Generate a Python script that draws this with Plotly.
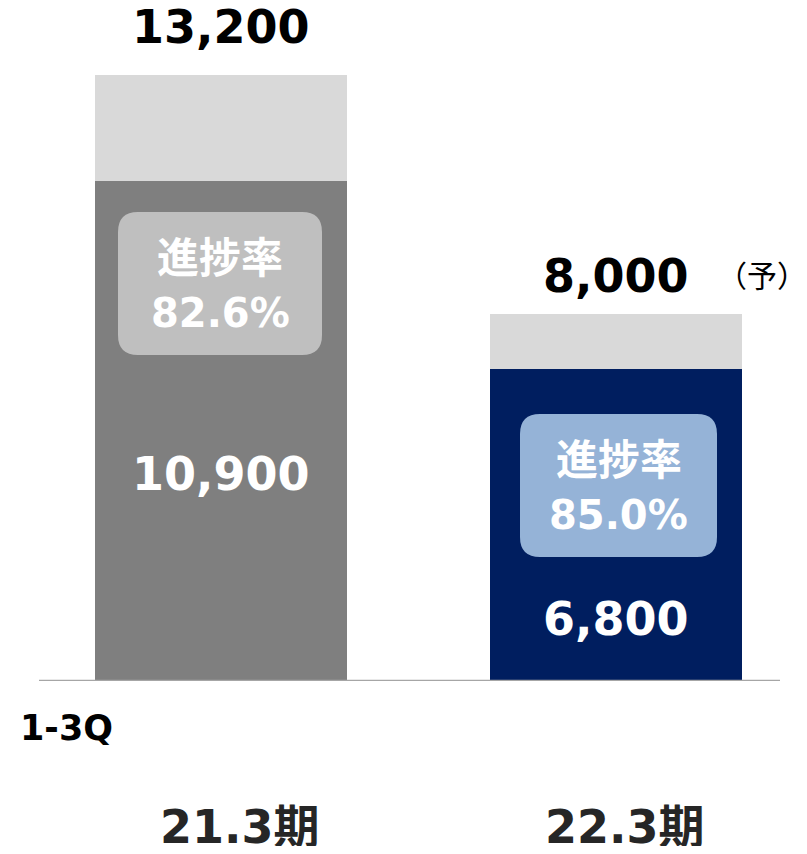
import plotly.graph_objects as go

# data
periods = ["21.3期", "22.3期"]
actual_1_3q = [10900, 6800]
full_year = [13200, 8000]
progress_rate = ["82.6%", "85.0%"]
actual_colors = ["#7f7f7f", "#001e5f"]
badge_colors = ["#bfbfbf", "#95b3d7"]
forecast_note = "（予）"
period_note = "1-3Q"

FONT = "DejaVu Sans, Noto Sans CJK JP, sans-serif"
CJK = "Noto Sans CJK JP, sans-serif"
W, H = 791, 838          # page body keeps an 8px margin
BASE_PX = 673            # pixel row of value 0
PY = 0.0459              # pixels per unit on y
PX = 395                 # pixels per category step on x
X_LO = -213 / PX


def ydat(px_row):
    return (BASE_PX - px_row) / PY


x = list(range(len(periods)))
remainder = [f - a for f, a in zip(full_year, actual_1_3q)]

fig = go.Figure()
fig.add_trace(go.Bar(
    x=x, y=actual_1_3q, width=252 / PX,
    marker={"color": actual_colors, "line": {"width": 0}},
    hoverinfo="skip",
))
fig.add_trace(go.Bar(
    x=x, y=remainder, width=252 / PX,
    marker={"color": "#d9d9d9", "line": {"width": 0}},
    hoverinfo="skip",
))


def rounded_box(x0, x1, y0, y1, rx, ry):
    return (f"M {x0+rx},{y1} L {x1-rx},{y1} Q {x1},{y1} {x1},{y1-ry} "
            f"L {x1},{y0+ry} Q {x1},{y0} {x1-rx},{y0} L {x0+rx},{y0} "
            f"Q {x0},{y0} {x0},{y0+ry} L {x0},{y1-ry} Q {x0},{y1} {x0+rx},{y1} Z")


rx, ry = 20 / PX, 20 / PY
box_px = [(110, 314, 204, 347), (512, 709, 406, 549)]   # x0, x1, top, bottom (px)
value_row = [464, 609]
top_shift = [48, 38]
period_dx = [19, 9]

for i in x:
    bx0, bx1, btop, bbot = box_px[i]
    xa, xb = X_LO + bx0 / PX, X_LO + bx1 / PX
    ya, yb = ydat(bbot), ydat(btop)
    fig.add_shape(type="path", path=rounded_box(xa, xb, ya, yb, rx, ry),
                  fillcolor=badge_colors[i], line={"width": 0}, layer="above")
    cx, cy = (xa + xb) / 2, (ya + yb) / 2
    fig.add_annotation(x=cx, y=cy, yshift=25, text="<b>進捗率</b>", showarrow=False,
                       font={"family": FONT, "size": 42, "color": "white"})
    fig.add_annotation(x=cx, y=cy, yshift=-29, text=f"<b>{progress_rate[i]}</b>", showarrow=False,
                       font={"family": FONT, "size": 40, "color": "white"})
    fig.add_annotation(x=i, y=ydat(value_row[i]), yshift=-2, text=f"<b>{actual_1_3q[i]:,}</b>",
                       showarrow=False, font={"family": FONT, "size": 46, "color": "white"})
    fig.add_annotation(x=i, y=full_year[i], yshift=top_shift[i], text=f"<b>{full_year[i]:,}</b>",
                       showarrow=False, font={"family": FONT, "size": 46, "color": "black"})
    fig.add_annotation(x=i, xshift=period_dx[i], y=0, yshift=-146, text=f"<b>{periods[i]}</b>",
                       showarrow=False, font={"family": FONT, "size": 46, "color": "#262626"})

fig.add_annotation(x=X_LO + 754 / PX, y=full_year[1], yshift=40, text=forecast_note, showarrow=False,
                   font={"family": CJK, "size": 30, "color": "black"})
fig.add_annotation(x=10 / W, xref="paper", xanchor="left", y=0, yshift=-47, text=f"<b>{period_note}</b>",
                   showarrow=False, font={"family": FONT, "size": 35, "color": "black"})

# baseline
fig.add_shape(type="line", x0=X_LO + 31 / PX, x1=X_LO + 772 / PX, y0=0, y1=0,
              line={"color": "#a6a6a6", "width": 2.5}, layer="above")

fig.update_layout(
    width=W, height=H, barmode="stack", showlegend=False,
    margin={"l": 0, "r": 0, "t": 0, "b": 0},
    plot_bgcolor="white", paper_bgcolor="white",
    xaxis={"range": [X_LO, X_LO + W / PX], "visible": False, "fixedrange": True},
    yaxis={"domain": [(H - BASE_PX) / H, 1], "range": [0, BASE_PX / PY],
           "visible": False, "fixedrange": True},
)

fig.write_html("out.html")
